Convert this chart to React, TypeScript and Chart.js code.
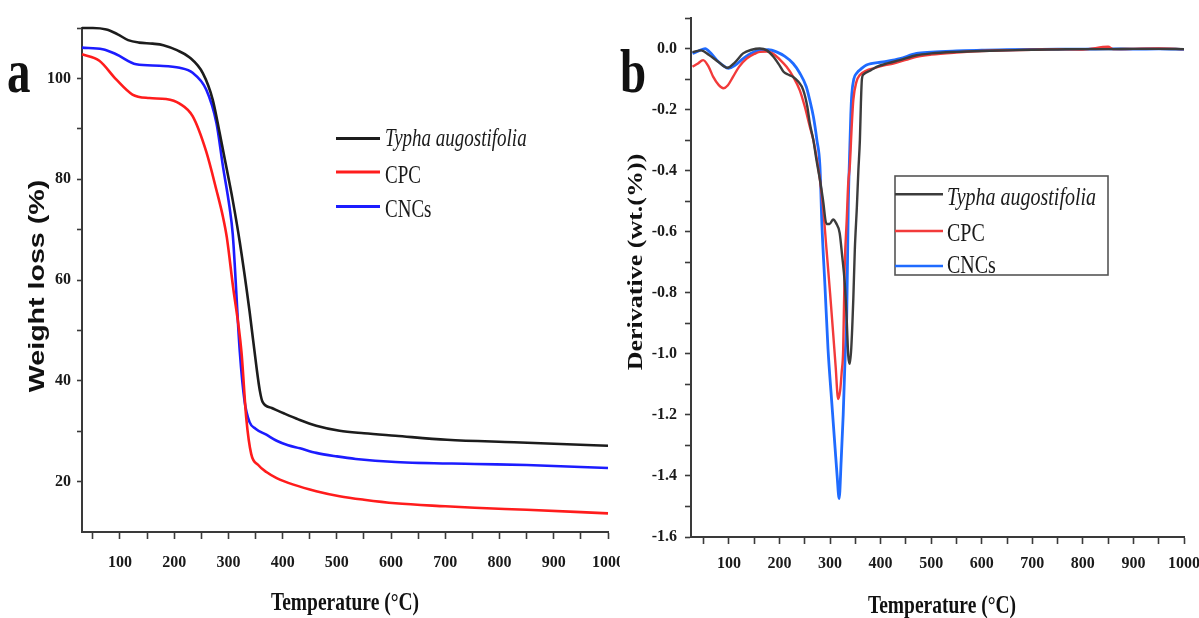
import React, { useEffect, useRef } from 'react';
import { Chart, registerables } from 'chart.js';

Chart.register(...registerables);

// ---------- data ----------
const seriesLabels = ['Typha augostifolia', 'CPC', 'CNCs'];
const italicLabels = [true, false, false];

// (a) TGA – weight (%) vs temperature (°C)
const tgaTyphaT = [30, 50, 75, 95, 115, 135, 160, 180, 205, 228, 253, 271, 284, 296, 308, 321, 339, 352, 358, 363, 380, 403, 430, 462, 505, 550, 608, 703, 827, 1000];
const tgaTyphaW = [110, 110, 109.7, 108.8, 107.6, 107.1, 106.9, 106.6, 105.6, 104.2, 101.0, 95.8, 89.1, 82.5, 75.8, 67.5, 53.8, 42.5, 38.0, 35.8, 34.6, 33.5, 32.3, 31.1, 30.1, 29.6, 29.1, 28.3, 27.8, 27.1];

const tgaCpcT = [30, 62, 93, 123, 154, 185, 210, 234, 259, 278, 290, 297, 308, 324, 333, 342, 355, 370, 389, 420, 462, 505, 550, 608, 700, 754, 850, 1000];
const tgaCpcW = [104.8, 103.5, 99.8, 96.8, 96.1, 95.9, 95.0, 92.5, 85.5, 77.8, 72.5, 68.5, 59.1, 45.8, 32.5, 25.5, 23.3, 21.9, 20.7, 19.4, 18.1, 17.1, 16.4, 15.7, 15.1, 14.8, 14.4, 13.7];

const tgaCncT = [30, 68, 93, 130, 173, 210, 234, 259, 278, 290, 302, 308, 321, 330, 339, 350, 370, 389, 410, 432, 462, 500, 535, 608, 754, 850, 1000];
const tgaCncW = [106.1, 105.8, 104.8, 102.8, 102.5, 102.1, 101.1, 97.8, 91.1, 82.5, 74.5, 69.1, 45.8, 35.8, 31.8, 30.5, 29.3, 28.1, 27.2, 26.6, 25.7, 25.0, 24.5, 23.9, 23.5, 23.3, 22.7];

// (b) DTG – derivative (wt.(%)) vs temperature (°C)
const dtgTyphaT = [28, 45, 60, 80, 97, 112, 128, 145, 161, 175, 188, 200, 208, 218, 227, 237, 247, 255, 260, 267, 273, 280, 286, 293, 299, 306, 312, 319, 324, 329, 333, 336, 339, 342, 346, 349, 353, 356, 359, 361, 363, 366, 380, 392, 415, 438, 471, 500, 550, 600, 650, 700, 750, 800, 850, 900, 950, 1000];
const dtgTyphaD = [-0.012, -0.006, -0.02, -0.045, -0.063, -0.045, -0.016, -0.004, 0.0, -0.006, -0.027, -0.055, -0.076, -0.086, -0.093, -0.108, -0.136, -0.19, -0.245, -0.3, -0.364, -0.43, -0.495, -0.575, -0.575, -0.56, -0.572, -0.604, -0.68, -0.767, -0.89, -1.006, -1.033, -0.98, -0.82, -0.658, -0.52, -0.4, -0.3, -0.18, -0.1, -0.085, -0.072, -0.06, -0.048, -0.038, -0.022, -0.016, -0.011, -0.008, -0.006, -0.004, -0.003, -0.002, -0.002, -0.001, -0.001, -0.002];

const dtgCpcT = [28, 38, 49, 60, 69, 80, 89, 98, 108, 120, 135, 150, 161, 175, 187, 200, 214, 228, 240, 250, 260, 267, 273, 280, 286, 293, 300, 306, 311, 316, 320, 323, 326, 329, 333, 336, 339, 343, 346, 352, 359, 372, 386, 405, 425, 450, 471, 500, 550, 600, 650, 700, 750, 800, 850, 860, 900, 950, 1000];
const dtgCpcD = [-0.06, -0.05, -0.038, -0.06, -0.093, -0.12, -0.13, -0.12, -0.093, -0.06, -0.033, -0.018, -0.011, -0.01, -0.016, -0.035, -0.06, -0.095, -0.136, -0.19, -0.256, -0.3, -0.354, -0.43, -0.517, -0.658, -0.8, -0.93, -1.04, -1.148, -1.12, -1.06, -0.985, -0.713, -0.56, -0.44, -0.386, -0.25, -0.169, -0.11, -0.087, -0.072, -0.065, -0.056, -0.049, -0.037, -0.027, -0.02, -0.013, -0.008, -0.006, -0.004, -0.002, -0.003, 0.006, -0.002, -0.001, 0.0, -0.002];

const dtgCncT = [28, 40, 53, 64, 76, 88, 99, 112, 128, 145, 161, 178, 194, 210, 227, 240, 253, 260, 267, 274, 280, 284, 290, 296, 303, 310, 314, 318, 322, 326, 330, 333, 336, 339, 341, 343, 347, 353, 362, 372, 405, 438, 471, 500, 550, 600, 650, 700, 750, 800, 850, 900, 950, 1000];
const dtgCncD = [-0.016, -0.008, 0.0, -0.015, -0.038, -0.055, -0.065, -0.055, -0.033, -0.015, -0.005, -0.004, -0.011, -0.025, -0.049, -0.08, -0.125, -0.17, -0.223, -0.3, -0.386, -0.58, -0.78, -0.985, -1.15, -1.31, -1.4, -1.474, -1.35, -1.2, -1.0, -0.876, -0.52, -0.33, -0.22, -0.15, -0.1, -0.08, -0.066, -0.054, -0.044, -0.033, -0.016, -0.012, -0.008, -0.005, -0.004, -0.003, -0.002, -0.002, -0.001, -0.002, -0.001, -0.003];

// tick values
const xTicks = [50, 100, 150, 200, 250, 300, 350, 400, 450, 500, 550, 600, 650, 700, 750, 800, 850, 900, 950, 1000];
const tgaYTicks = [20, 30, 40, 50, 60, 70, 80, 90, 100, 110];
const dtgYTicksTenths = [-16, -15, -14, -13, -12, -11, -10, -9, -8, -7, -6, -5, -4, -3, -2, -1, 0, 1];

const xTitle = 'Temperature (°C)';
const tgaYTitle = 'Weight loss (%)';
const dtgYTitle = 'Derivative (wt.(%))';

// ---------- helpers ----------
const pts = (xs: number[], ys: number[]) => xs.map((x, i) => ({ x, y: ys[i] }));

const textPlugin = {
  id: 'textOverlay',
  afterDraw(chart: any, _args: any, opts: any) {
    const ctx = chart.ctx;
    (opts.items || []).forEach((it: any) => {
      ctx.save();
      ctx.translate(it.x, it.y);
      if (it.rotate) ctx.rotate(it.rotate);
      ctx.scale(it.sx ?? 1, it.sy ?? 1);
      ctx.font = it.font;
      ctx.fillStyle = it.color || '#1a1a1a';
      ctx.textAlign = it.align || 'center';
      ctx.textBaseline = it.baseline || 'middle';
      ctx.fillText(it.text, 0, 0);
      ctx.restore();
    });
  },
};

const legendPlugin = {
  id: 'lineLegend',
  afterDraw(chart: any, _args: any, o: any) {
    const ctx = chart.ctx;
    ctx.save();
    if (o.box) {
      ctx.strokeStyle = '#555';
      ctx.lineWidth = 1.6;
      ctx.strokeRect(o.box.x, o.box.y, o.box.w, o.box.h);
    }
    chart.data.datasets.forEach((ds: any, i: number) => {
      const y = o.lineY[i];
      ctx.strokeStyle = ds.borderColor;
      ctx.lineWidth = o.lineWidth;
      ctx.beginPath();
      ctx.moveTo(o.x, y);
      ctx.lineTo(o.x + o.len, y);
      ctx.stroke();
      ctx.save();
      ctx.translate(o.x + o.len + o.gap, o.baseY[i]);
      ctx.scale(1, o.sy);
      ctx.font = `${italicLabels[i] ? 'italic ' : ''}${o.size}px "Liberation Serif"`;
      ctx.fillStyle = '#1a1a1a';
      ctx.textAlign = 'left';
      ctx.textBaseline = 'alphabetic';
      ctx.fillText(ds.label, 0, 0);
      ctx.restore();
    });
    ctx.restore();
  },
};

const tickFont = { family: 'Liberation Serif', weight: 'bold' as const, size: 16 };
const axisColor = '#3a3a3a';

const fitX = (h: number) => (s: any) => {
  s.height = h;
  s.paddingLeft = 0;
  s.paddingRight = 0;
  s.paddingTop = 0;
  s.paddingBottom = 0;
};
const fitY = (w: number) => (s: any) => {
  s.width = w;
  s.paddingLeft = 0;
  s.paddingRight = 0;
  s.paddingTop = 0;
  s.paddingBottom = 0;
};

function makeLeft(): any {
  return {
    type: 'line',
    data: {
      datasets: [
        { label: seriesLabels[0], data: pts(tgaTyphaT, tgaTyphaW), borderColor: '#1c1c1c', borderWidth: 2.6, pointRadius: 0, cubicInterpolationMode: 'monotone', clip: false },
        { label: seriesLabels[1], data: pts(tgaCpcT, tgaCpcW), borderColor: '#ff1c1c', borderWidth: 2.6, pointRadius: 0, cubicInterpolationMode: 'monotone', clip: false },
        { label: seriesLabels[2], data: pts(tgaCncT, tgaCncW), borderColor: '#1c1cff', borderWidth: 2.6, pointRadius: 0, cubicInterpolationMode: 'monotone', clip: false },
      ],
    },
    options: {
      responsive: false,
      animation: false,
      devicePixelRatio: 1,
      layout: { autoPadding: false, padding: { left: 0, top: 28, right: 12, bottom: 0 } },
      plugins: {
        legend: { display: false },
        tooltip: { enabled: false },
        textOverlay: {
          items: [
            { text: 'a', x: 7, y: 92, font: 'bold 47px "Liberation Serif"', align: 'left', baseline: 'alphabetic', sy: 1.3, color: '#111' },
            { text: tgaYTitle, x: 38, y: 286, rotate: -Math.PI / 2, sx: 1.3, font: 'bold 22px "Liberation Sans"', color: '#111' },
            { text: xTitle, x: 345, y: 603, sy: 1.3, font: 'bold 19.5px "Liberation Serif"', color: '#111' },
          ],
        },
        lineLegend: { x: 336, lineY: [138.5, 172, 206.5], baseY: [146, 182.5, 216.5], len: 44, gap: 5, size: 19, sy: 1.35, lineWidth: 3 },
      },
      scales: {
        x: {
          type: 'linear',
          min: 30,
          max: 1000,
          afterFit: fitX(86),
          afterBuildTicks: (s: any) => { s.ticks = xTicks.map((v) => ({ value: v })); },
          ticks: { autoSkip: false, maxRotation: 0, padding: 14, color: '#1a1a1a', font: tickFont, callback: (v: any) => (v % 100 === 0 ? String(v) : '') },
          grid: { drawOnChartArea: false, drawTicks: true, tickLength: 7, tickColor: axisColor, tickWidth: 1.6 },
          border: { display: true, color: axisColor, width: 2 },
        },
        y: {
          type: 'linear',
          min: 10,
          max: 110,
          afterFit: fitY(82),
          afterBuildTicks: (s: any) => { s.ticks = tgaYTicks.map((v) => ({ value: v })); },
          ticks: { autoSkip: false, padding: 6, color: '#1a1a1a', font: tickFont, callback: (v: any) => (v % 20 === 0 && v <= 100 ? String(v) : '') },
          grid: { drawOnChartArea: false, drawTicks: true, tickLength: 5, tickColor: axisColor, tickWidth: 1.6 },
          border: { display: true, color: axisColor, width: 2 },
        },
      },
    },
    plugins: [textPlugin, legendPlugin],
  };
}

function makeRight(): any {
  return {
    type: 'line',
    data: {
      datasets: [
        { label: seriesLabels[0], data: pts(dtgTyphaT, dtgTyphaD), borderColor: '#3c3c3c', borderWidth: 2.4, pointRadius: 0, cubicInterpolationMode: 'monotone', clip: false },
        { label: seriesLabels[1], data: pts(dtgCpcT, dtgCpcD), borderColor: '#f23a3a', borderWidth: 2.4, pointRadius: 0, cubicInterpolationMode: 'monotone', clip: false },
        { label: seriesLabels[2], data: pts(dtgCncT, dtgCncD), borderColor: '#1f6bff', borderWidth: 2.8, pointRadius: 0, cubicInterpolationMode: 'monotone', clip: false },
      ],
    },
    options: {
      responsive: false,
      animation: false,
      devicePixelRatio: 1,
      layout: { autoPadding: false, padding: { left: 0, top: 18, right: 15, bottom: 0 } },
      plugins: {
        legend: { display: false },
        tooltip: { enabled: false },
        textOverlay: {
          items: [
            { text: 'b', x: 0, y: 92, font: 'bold 47px "Liberation Serif"', align: 'left', baseline: 'alphabetic', sy: 1.3, color: '#111' },
            { text: dtgYTitle, x: 17, y: 262, rotate: -Math.PI / 2, sx: 1.3, font: 'bold 20px "Liberation Serif"', color: '#111' },
            { text: xTitle, x: 322, y: 606, sy: 1.3, font: 'bold 19.5px "Liberation Serif"', color: '#111' },
          ],
        },
        lineLegend: { x: 275, lineY: [194.3, 231, 266], baseY: [205, 241, 272.5], len: 48, gap: 4, size: 20, sy: 1.25, lineWidth: 2.6, box: { x: 275, y: 176, w: 213, h: 99 } },
      },
      scales: {
        x: {
          type: 'linear',
          min: 25,
          max: 1000,
          afterFit: fitX(81),
          afterBuildTicks: (s: any) => { s.ticks = xTicks.map((v) => ({ value: v })); },
          ticks: { autoSkip: false, maxRotation: 0, padding: 10, color: '#1a1a1a', font: tickFont, callback: (v: any) => (v % 100 === 0 ? String(v) : '') },
          grid: { drawOnChartArea: false, drawTicks: true, tickLength: 7, tickColor: axisColor, tickWidth: 1.6 },
          border: { display: true, color: axisColor, width: 2 },
        },
        y: {
          type: 'linear',
          min: -1.6,
          max: 0.1,
          afterFit: fitY(71),
          afterBuildTicks: (s: any) => { s.ticks = dtgYTicksTenths.map((k) => ({ value: k / 10 })); },
          ticks: {
            autoSkip: false,
            padding: 8,
            color: '#1a1a1a',
            font: tickFont,
            callback: (v: any) => {
              const k = Math.round(v * 10);
              return k % 2 === 0 && k <= 0 ? (k / 10).toFixed(1) : '';
            },
          },
          grid: { drawOnChartArea: false, drawTicks: true, tickLength: 6, tickColor: axisColor, tickWidth: 1.6 },
          border: { display: true, color: axisColor, width: 2 },
        },
      },
    },
    plugins: [textPlugin, legendPlugin],
  };
}

export default function App() {
  const leftRef = useRef<HTMLCanvasElement | null>(null);
  const rightRef = useRef<HTMLCanvasElement | null>(null);

  useEffect(() => {
    const a = new Chart(leftRef.current as HTMLCanvasElement, makeLeft());
    const b = new Chart(rightRef.current as HTMLCanvasElement, makeRight());
    return () => {
      a.destroy();
      b.destroy();
    };
  }, []);

  return (
    <div style={{ position: 'absolute', left: 0, top: 0, width: 1199, height: 618, background: '#fff', overflow: 'hidden' }}>
      <canvas ref={leftRef} width={620} height={618} style={{ position: 'absolute', left: 0, top: 0, width: 620, height: 618 }} />
      <canvas ref={rightRef} width={579} height={618} style={{ position: 'absolute', left: 620, top: 0, width: 579, height: 618 }} />
    </div>
  );
}
